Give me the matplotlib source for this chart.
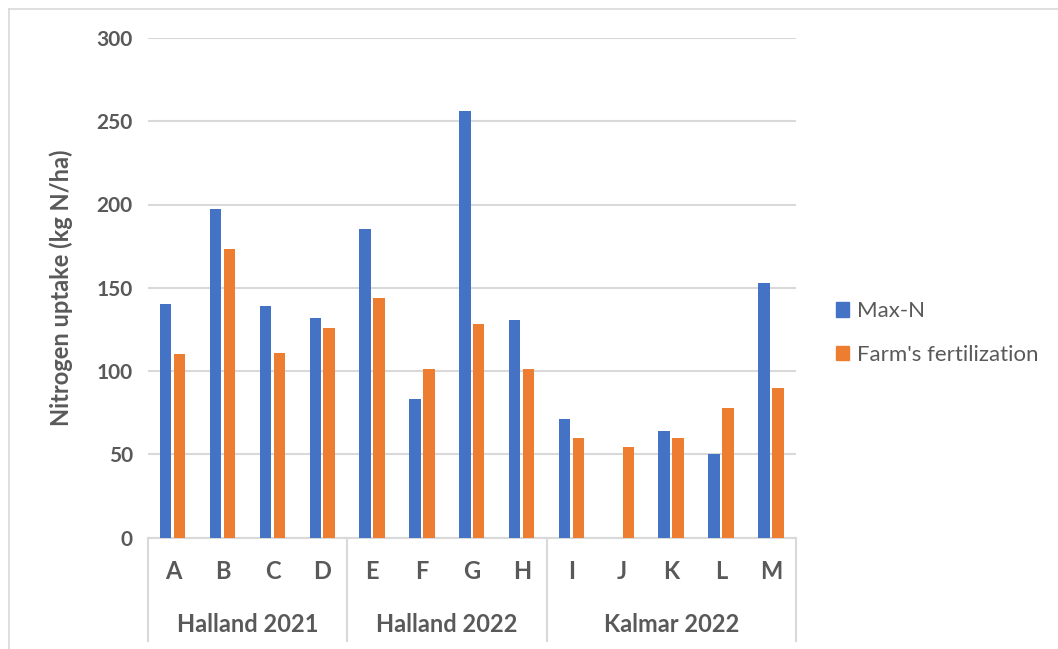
import numpy as np
import matplotlib.pyplot as plt
from matplotlib.patches import Patch
from matplotlib.lines import Line2D

plt.rcParams['font.family'] = ['Lato', 'DejaVu Sans']

sites = ['A', 'B', 'C', 'D', 'E', 'F', 'G', 'H', 'I', 'J', 'K', 'L', 'M']
groups = ['Halland 2021', 'Halland 2022', 'Kalmar 2022']
group_sizes = [4, 4, 5]
max_n = [140, 197, 139, 132, 185, 83, 256, 130.5, 71, 0, 64, 50, 153]
farm = [110, 173, 111, 126, 144, 101, 128, 101.5, 59.5, 54.5, 59.5, 78, 89.5]

grey = '#595959'
line_grey = '#d9d9d9'
blue = '#4472C4'
orange = '#ED7D31'

W, H = 1058, 649
fig = plt.figure(figsize=(W / 100, H / 100), dpi=100)
ax = fig.add_axes([148 / W, 1 - 537.5 / H, (796 - 148) / W, (537.5 - 38) / H])

x = np.arange(len(sites))
bw = 0.23
ax.bar(x - 0.145, max_n, bw, color=blue, label='Max-N', zorder=3)
ax.bar(x + 0.135, farm, bw, color=orange, label="Farm's fertilization", zorder=3)

ax.set_xlim(-0.5, len(sites) - 0.5)
ax.set_ylim(0, 300)
ax.set_yticks(range(0, 301, 50))
ax.yaxis.grid(True, color=line_grey, linewidth=1.5)
ax.set_axisbelow(True)
for s in ax.spines.values():
    s.set_visible(False)
ax.tick_params(axis='y', length=0, pad=11, labelsize=15, labelcolor=grey)
for t in ax.get_yticklabels():
    t.set_fontweight('bold')
ax.set_xticks([])
ax.set_ylabel('Nitrogen uptake (kg N/ha)', fontsize=17, fontweight='bold',
               color=grey, labelpad=17)

# two-level category axis below the plot
tr = ax.get_xaxis_transform()
ax.add_line(Line2D([-0.5, len(sites) - 0.5], [0, 0], transform=tr,
                   color=line_grey, lw=1.5, clip_on=False))
for i, s in enumerate(sites):
    ax.text(i, -0.069, s, transform=tr, ha='center', va='center',
            fontsize=17, fontweight='bold', color=grey)
edges = np.concatenate([[0], np.cumsum(group_sizes)]) - 0.5
for e in edges:
    ax.add_line(Line2D([e, e], [0, -0.207], transform=tr,
                       color=line_grey, lw=1.5, clip_on=False))
for g, a, b in zip(groups, edges[:-1], edges[1:]):
    ax.text((a + b) / 2, -0.175, g, transform=tr, ha='center', va='center',
            fontsize=17, fontweight='bold', color=grey)

handles = [Patch(color=blue), Patch(color=orange)]
fig.legend(handles, ['Max-N', "Farm's fertilization"], loc='center left',
           bbox_to_anchor=(816 / W, 1 - 333 / H), frameon=False,
           fontsize=16, labelcolor=grey, handlelength=0.6, handleheight=0.6,
           handletextpad=0.35, labelspacing=1.05)

# chart area border (top and left edges)
fig.add_artist(Line2D([9 / W, 1], [1 - 9 / H, 1 - 9 / H], color=line_grey, lw=1.2))
fig.add_artist(Line2D([9 / W, 9 / W], [0, 1 - 9 / H], color=line_grey, lw=1.2))

fig.savefig('out.png', dpi=100)
